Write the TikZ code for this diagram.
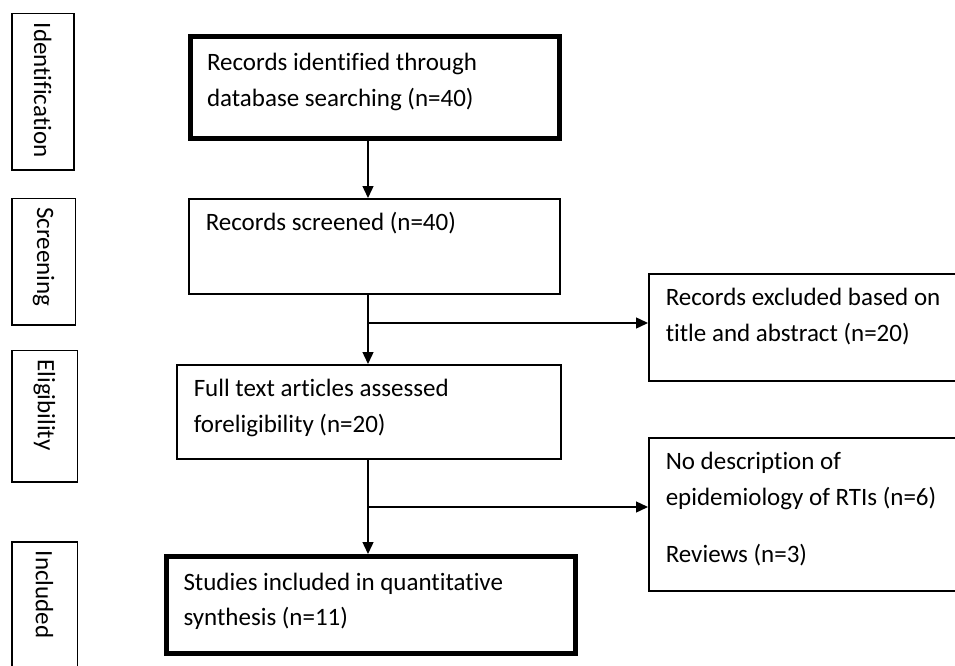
\documentclass[tikz,border=0pt]{standalone}
\usepackage{fontspec}
\setmainfont{Carlito}[Ligatures=NoCommon]
\usetikzlibrary{arrows.meta}
\tikzstyle{box}=[draw=black,line width=1.5pt,anchor=north west,
  inner xsep=17pt,inner ysep=7pt,font=\fontsize{25}{35.5}\selectfont]
\tikzstyle{tbox}=[box,line width=5pt,inner ysep=9pt]
\tikzstyle{stage}=[draw=black,line width=1.5pt,rotate=-90,anchor=north west,
  inner xsep=9pt,inner ysep=0pt,align=left,font=\fontsize{25}{30}\selectfont]
\tikzstyle{arr}=[-{Triangle[length=12pt,width=11pt]},line width=1.4pt]
\newcommand{\boxtext}[3]{\parbox[c][#2pt][t]{#1pt}{\strut#3}}

\begin{document}
\begin{tikzpicture}[x=1pt,y=-1pt]
  \useasboundingbox (0,0) rectangle (955,666);
  % stage labels on the left
  \node [style=stage,minimum width=156,minimum height=62,text width=138] (lid) at (74.5,13) {Identification};
  \node [style=stage,minimum width=126.5,minimum height=63.5,text width=108] (lscr) at (76,197.5) {Screening};
  \node [style=stage,minimum width=131.5,minimum height=65.5,text width=113] (lelig) at (78,349.5) {Eligibility};
  \node [style=stage,minimum width=127,minimum height=65.5,text width=109] (linc) at (78,541) {Included};
  % flow boxes
  \node [style=tbox] (id) at (187.5,34.5) {\boxtext{335}{83}{Records identified through\\database searching (n=40)}};
  \node [style=box] (scr) at (188,198) {\boxtext{337}{81}{Records screened (n=40)}};
  \node [style=box] (elig) at (176,364) {\boxtext{350}{80}{Full text articles assessed\\foreligibility (n=20)}};
  \node [style=tbox] (inc) at (164,554) {\boxtext{375}{79}{Studies included in quantitative\\synthesis (n=11)}};
  \node [style=box] (ex1) at (648,273) {\boxtext{290}{93}{Records excluded based on\\title and abstract (n=20)}};
  \node [style=box] (ex2) at (648,437) {\boxtext{290}{139}{No description of\\epidemiology of RTIs (n=6)\\[22pt]Reviews (n=3)}};
  % connectors
  \coordinate (j1) at (368,323);
  \coordinate (j2) at (368,507);
  \draw [style=arr] (id.south -| j1) -- (scr.north -| j1);
  \draw [style=arr] (scr.south -| j1) -- (elig.north -| j1);
  \draw [style=arr] (j1) -- (j1 -| ex1.west);
  \draw [style=arr] (elig.south -| j2) -- (inc.north -| j2);
  \draw [style=arr] (j2) -- (j2 -| ex2.west);
\end{tikzpicture}
\end{document}
